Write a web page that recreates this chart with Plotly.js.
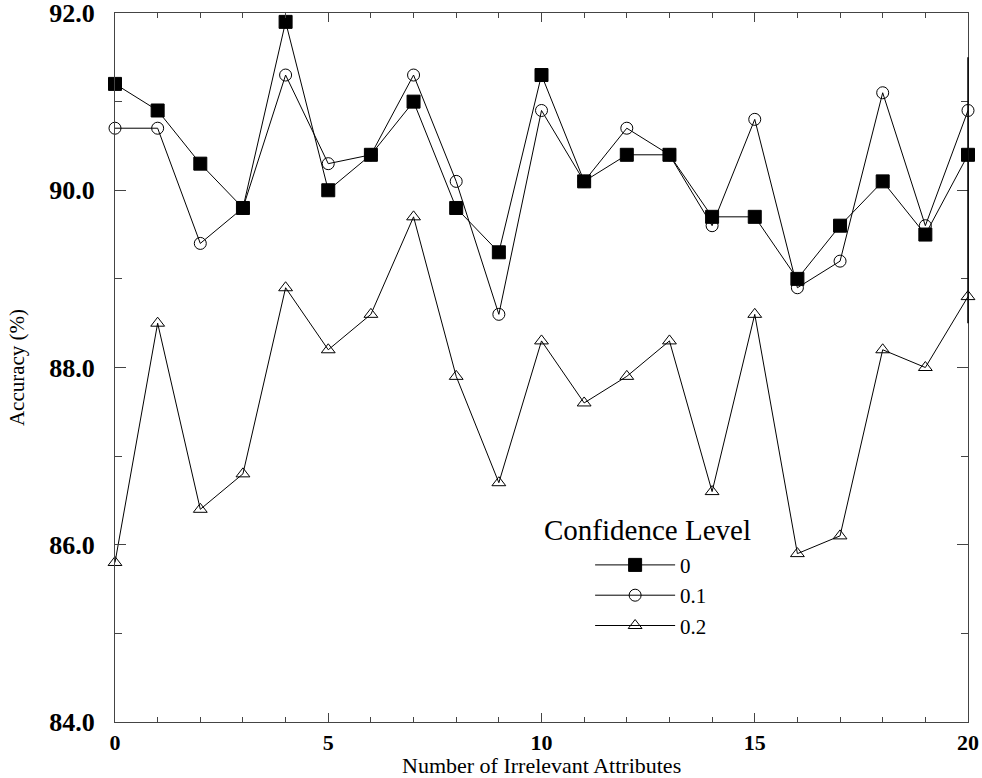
<!DOCTYPE html>
<html>
<head>
<meta charset="utf-8">
<script src="https://cdn.plot.ly/plotly-3.0.1.min.js"></script>
<style>
  html, body { margin: 0; padding: 0; background: #fff; }
  #chart { width: 982px; height: 778px; }
</style>
</head>
<body>
<div id="chart"></div>
<script>
// Number of irrelevant attributes added to the data
const attributes = [0, 1, 2, 3, 4, 5, 6, 7, 8, 9, 10, 11, 12, 13, 14, 15, 16, 17, 18, 19, 20];

// Accuracy (%) for each confidence level
const accLevel0 = [91.2, 90.9, 90.3, 89.8, 91.9, 90.0, 90.4, 91.0, 89.8, 89.3, 91.3,
                   90.1, 90.4, 90.4, 89.7, 89.7, 89.0, 89.6, 90.1, 89.5, 90.4];
const accLevel01 = [90.7, 90.7, 89.4, 89.8, 91.3, 90.3, 90.4, 91.3, 90.1, 88.6, 90.9,
                    90.1, 90.7, 90.4, 89.6, 90.8, 88.9, 89.2, 91.1, 89.6, 90.9];
const accLevel02 = [85.8, 88.5, 86.4, 86.8, 88.9, 88.2, 88.6, 89.7, 87.9, 86.7, 88.3,
                    87.6, 87.9, 88.3, 86.6, 88.6, 85.9, 86.1, 88.2, 88.0, 88.8];

const levelNames = ['0', '0.1', '0.2'];
const yTicks = [84, 86, 88, 90, 92];
const xTicks = [0, 5, 10, 15, 20];

const serif = '"Liberation Serif", "DejaVu Serif", serif';

function series(y, name, symbol) {
  return {
    x: attributes,
    y: y,
    name: name,
    type: 'scatter',
    mode: 'lines+markers',
    cliponaxis: false,
    line: { color: '#000', width: 1 },
    marker: {
      symbol: symbol,
      size: symbol === 'square' ? 13 : 12,
      color: '#000',
      line: { color: '#000', width: 1 }
    }
  };
}

const traces = [
  series(accLevel0, levelNames[0], 'square'),
  series(accLevel01, levelNames[1], 'circle-open'),
  series(accLevel02, levelNames[2], 'triangle-up-open')
];

const layout = {
  width: 982,
  height: 778,
  paper_bgcolor: '#fff',
  plot_bgcolor: '#fff',
  margin: { l: 115, r: 14, t: 13, b: 56 },
  showlegend: true,
  font: { family: serif, color: '#000' },
  xaxis: {
    range: [0, 20],
    tickvals: xTicks,
    ticktext: xTicks.map(String),
    ticks: 'inside',
    ticklen: 9,
    tickwidth: 1,
    tickcolor: '#444',
    minor: { dtick: 1, ticks: 'inside', ticklen: 5, tickcolor: '#444' },
    showline: true,
    linecolor: '#444',
    linewidth: 1,
    mirror: 'ticks',
    showgrid: false,
    zeroline: false,
    ticklabelstandoff: 1,
    ticklabeloverflow: 'allow',
    tickfont: { family: serif, size: 22, weight: 'bold', color: '#000' }
  },
  yaxis: {
    range: [84, 92],
    tickvals: yTicks,
    tickformat: '.1f',
    ticks: 'inside',
    ticklen: 11,
    tickwidth: 1,
    tickcolor: '#444',
    minor: { dtick: 1, ticks: 'inside', ticklen: 7, tickcolor: '#444' },
    showline: true,
    linecolor: '#444',
    linewidth: 1,
    mirror: 'ticks',
    showgrid: false,
    zeroline: false,
    ticklabelstandoff: 14,
    ticklabeloverflow: 'allow',
    tickfont: { family: serif, size: 26, weight: 'bold', color: '#000' },
    title: {
      text: 'Accuracy (%)',
      font: { family: serif, size: 21, color: '#000' },
      standoff: 18
    }
  },
  legend: {
    x: 0.557, xanchor: 'left',
    y: 0.25, yanchor: 'top',
    bgcolor: 'rgba(255,255,255,0)',
    borderwidth: 0,
    font: { family: serif, size: 21, color: '#000' },
    itemwidth: 80,
    tracegroupgap: 0
  },
  annotations: [
    {
      // x-axis title, set low under the tick labels
      text: 'Number of Irrelevant Attributes',
      xref: 'paper', yref: 'paper',
      x: 0.5, y: -0.0607, xanchor: 'center', yanchor: 'middle',
      showarrow: false,
      font: { family: serif, size: 22, color: '#000' }
    },
    {
      // legend heading
      text: 'Confidence Level',
      xref: 'paper', yref: 'paper',
      x: 0.501, y: 0.271, xanchor: 'left', yanchor: 'middle',
      showarrow: false,
      font: { family: serif, size: 29, color: '#000' }
    }
  ],
  shapes: [{
    type: 'line', xref: 'paper', yref: 'y',
    x0: 1, x1: 1, y0: 88.5, y1: 91.5,
    line: { color: '#000', width: 1.5 }
  }]
};

Plotly.newPlot('chart', traces, layout, { displayModeBar: false, staticPlot: true });
</script>
</body>
</html>
